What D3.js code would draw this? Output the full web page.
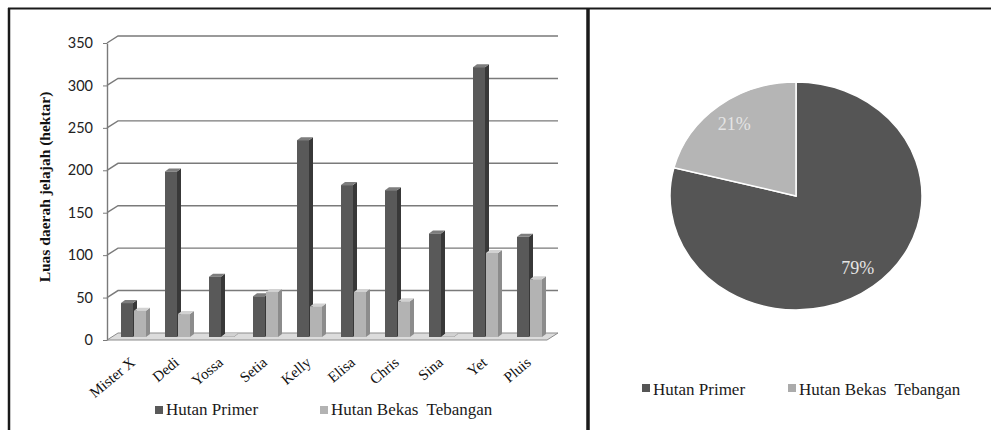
<!DOCTYPE html>
<html>
<head>
<meta charset="utf-8">
<script src="https://cdn.jsdelivr.net/npm/d3@7"></script>
<style>
  body { margin: 0; background: #fff; }
  svg { display: block; }
</style>
</head>
<body>
<svg id="chart" width="991" height="430"></svg>
<script>
// Home range area per individual (hectares) in two habitat types
const categories = ["Mister X", "Dedi", "Yossa", "Setia", "Kelly", "Elisa", "Chris", "Sina", "Yet", "Pluis"];
const hutanPrimer = [40, 195, 71, 48, 232, 179, 173, 122, 318, 118];
const hutanBekasTebangan = [31, 27, 1, 53, 36, 53, 42, 1, 99, 68];
const yTicks = [0, 50, 100, 150, 200, 250, 300, 350];
const seriesNames = ["Hutan Primer", "Hutan Bekas  Tebangan"];
const yTitle = "Luas daerah jelajah (hektar)";

// Overall share of home range per habitat type
const pieShares = [79, 21];
const pieLabels = ["79%", "21%"];

const serif = "Liberation Serif";
const sans = "Lato";

const svg = d3.select("#chart");

// ---------- panel frames ----------
const frame = svg.append("g").attr("stroke", "#1a1a1a").attr("fill", "none");
frame.append("path").attr("d", "M8,8.5H991").attr("stroke-width", 2);
frame.append("path").attr("d", "M9,8V430").attr("stroke-width", 2.5);
frame.append("path").attr("d", "M588,8V430").attr("stroke-width", 3.5);

// ---------- 3D column chart ----------
const colors = {
  primer: { front: "#595959", side: "#383838", top: "#7d7d7d" },
  bekas:  { front: "#b3b3b3", side: "#8c8c8c", top: "#d2d2d2" }
};

const x = d3.scaleBand().domain(categories).range([107, 547]);
const y = d3.scaleLinear().domain([0, 350]).range([340, 43]);

const back = { dx: 11, dy: -7 };   // offset of the back wall
const mid = { dx: 5, dy: -3 };     // plane on which the columns stand

// gridlines on the back wall with the short diagonal from each tick
svg.append("g")
  .selectAll("path")
  .data(yTicks.filter(t => t > 0))
  .join("path")
  .attr("d", t => `M107,${y(t)}L${107 + back.dx},${y(t) + back.dy}H${547 + back.dx}`)
  .attr("fill", "none")
  .attr("stroke", "#7a7a7a")
  .attr("stroke-width", 1.4);

// floor
svg.append("path")
  .attr("d", `M107,${y(0)}H547L${547 + back.dx},${y(0) + back.dy}H${107 + back.dx}Z`)
  .attr("fill", "#dcdcdc")
  .attr("stroke", "#8c8c8c")
  .attr("stroke-width", 1);

// y axis
const yAxis = svg.append("g")
  .attr("transform", "translate(107,0)")
  .call(d3.axisLeft(y).tickValues(yTicks).tickSize(4).tickSizeOuter(0).tickPadding(10));
yAxis.select(".domain").attr("stroke", "#7a7a7a").attr("stroke-width", 1.4);
yAxis.selectAll(".tick line").attr("stroke", "#7a7a7a");
yAxis.selectAll(".tick text")
  .attr("font-family", sans)
  .attr("font-size", 14.5)
  .attr("fill", "#222");

// y axis title
svg.append("text")
  .attr("transform", "translate(50,187) rotate(-90)")
  .attr("text-anchor", "middle")
  .attr("font-family", serif)
  .attr("font-weight", "bold")
  .attr("font-size", 15.5)
  .attr("fill", "#111")
  .text(yTitle);

// columns
const barW = 12, depth = 4, rise = 3;
function column(g, x0, v, c) {
  const base = y(0) + mid.dy;
  const top = y(v) + mid.dy;
  g.append("path")
    .attr("d", `M${x0 + barW},${top}L${x0 + barW + depth},${top - rise}V${base - rise}L${x0 + barW},${base}Z`)
    .attr("fill", c.side);
  g.append("path")
    .attr("d", `M${x0},${top}L${x0 + depth},${top - rise}H${x0 + barW + depth}L${x0 + barW},${top}Z`)
    .attr("fill", c.top);
  g.append("rect")
    .attr("x", x0).attr("y", top)
    .attr("width", barW).attr("height", base - top)
    .attr("fill", c.front);
}

const bars = svg.append("g");
categories.forEach((cat, i) => {
  const cx = x(cat) + x.bandwidth() / 2 + mid.dx;
  const g = bars.append("g");
  column(g, cx - 13, hutanPrimer[i], colors.primer);
  column(g, cx, hutanBekasTebangan[i], colors.bekas);
});

// category labels
svg.append("g")
  .selectAll("text")
  .data(categories)
  .join("text")
  .attr("transform", d => `translate(${x(d) + x.bandwidth() / 2 + 7},${364}) rotate(-40)`)
  .attr("text-anchor", "end")
  .attr("font-family", serif)
  .attr("font-size", 15)
  .attr("fill", "#111")
  .text(d => d);

// legend of the column chart
const leg1 = svg.append("g").attr("font-family", serif).attr("font-size", 17).attr("fill", "#1a1a1a");
[[155, colors.primer.front], [320, colors.bekas.front]].forEach(([lx, col], i) => {
  leg1.append("rect").attr("x", lx).attr("y", 406).attr("width", 8).attr("height", 8).attr("fill", col);
  leg1.append("text").attr("x", lx + 11).attr("y", 415).attr("xml:space", "preserve").text(seriesNames[i]);
});

// ---------- pie chart ----------
const pcx = 796, pcy = 196, rx = 126, ry = 114;
const pieColors = ["#555555", "#b5b5b5"];
const pie = d3.pie().sort(null).value(d => d);
const arcs = pie(pieShares);
const arc = d3.arc().innerRadius(0).outerRadius(rx);
const labelArc = d3.arc().innerRadius(rx * 0.8).outerRadius(rx * 0.8);

svg.append("g")
  .attr("transform", `translate(${pcx},${pcy}) scale(1,${ry / rx})`)
  .selectAll("path")
  .data(arcs)
  .join("path")
  .attr("d", arc)
  .attr("fill", (d, i) => pieColors[i])
  .attr("stroke", "#fff")
  .attr("stroke-width", 1.5)
  .attr("vector-effect", "non-scaling-stroke");

svg.append("g")
  .selectAll("text")
  .data(arcs)
  .join("text")
  .attr("x", d => pcx + labelArc.centroid(d)[0])
  .attr("y", d => pcy + labelArc.centroid(d)[1] * ry / rx)
  .attr("dy", "0.35em")
  .attr("text-anchor", "middle")
  .attr("font-family", serif)
  .attr("font-size", 18)
  .attr("fill", "#e4e4e4")
  .text((d, i) => pieLabels[i]);

// legend of the pie chart
const leg2 = svg.append("g").attr("font-family", serif).attr("font-size", 17).attr("fill", "#1a1a1a");
[[642, pieColors[0]], [788, "#ababab"]].forEach(([lx, col], i) => {
  leg2.append("rect").attr("x", lx).attr("y", 384).attr("width", 8).attr("height", 8).attr("fill", col);
  leg2.append("text").attr("x", lx + 11).attr("y", 395).attr("xml:space", "preserve").text(seriesNames[i]);
});
</script>
</body>
</html>
